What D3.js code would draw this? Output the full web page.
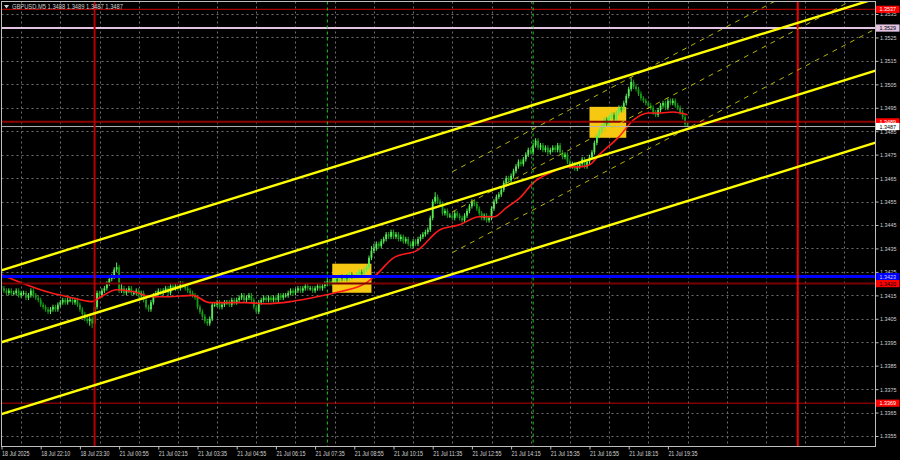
<!DOCTYPE html>
<html><head><meta charset="utf-8">
<script src="https://cdn.jsdelivr.net/npm/d3@7"></script>
<style>html,body{margin:0;padding:0;background:#000;} svg{display:block;}</style>
</head><body><svg id="c" width="900" height="460"></svg>
<script>
// ---------- DATA ----------
const symbolTitle = "GBPUSD,M5  1.3488 1.3489 1.3487 1.3487";
const BASE = 1.3400;           // candle values are in pips above BASE
const firstOpen = 19;
const closes = [18,17,16,17,16, 16,17,15,16, 16,14,15,17,15, 14,13,11,10, 9,8,9,10,9, 11,12,13,12,13, 13,12,13,11, 9,7,5,4, 5,3,10, 16,15,17,18, 20,22,23, 26,27,17, 18,16,17,18,16, 16,17,15,16, 13,10,9,12, 15,16,17,16, 17,18,16,19,18, 19,18,20,19,18, 17,16,15,14, 10,8,6,4,3, 5,11, 11,12,10,11,12, 12,11,13,12,13, 14,15,13,14,15, 13,10,8,12, 13,14,13,14,13, 14,13,15,14,15, 15,16,17,16,17, 18,17,18,19,18, 18,17,18,19,18, 19,20,21,20, 21,22,21,23, 22,23,22,24,23, 23,24,25,24,26, 27,31,34, 35,37,36,38, 39,41,40,42,40, 41,39,40,38,39, 37,36,38,37,39, 40,41,42,43, 48,55,57,55, 54,50,51,49, 49,48,50,49, 48,47,49,51, 53,55,54,52, 50,48,49,47,48, 52,55,57,58, 60,63,65,64,66, 68,70,72,71, 73,75,77,76, 79,81,78,79, 77,78,76,77,78, 77,79,76,74,75, 72,70,71,69,70, 71,73,70,72,74, 76,80,83,85, 87,90,88,91, 92,90,93,95,94, 97,100,103, 106,104, 103,101,99, 98,97,96,95, 93,92,94, 96,97,95,98,97, 98,96,95, 93,91,88,87];
const highs = [20,19,18,18,18, 17,18,18,17, 17,17,16,18,18, 16,15,14,12, 11,10,10,11,11, 12,13,14,14,14, 14,14,14,14, 12,10,8,6, 6,6,11, 17,17,18,19, 21,23,24, 27,29,28, 20,19,18,19,19, 17,18,18,17, 17,14,11,13, 16,17,18,18, 18,19,19,20,20, 20,20,21,21,20, 19,18,17,16, 15,11,9,7,5, 6,12, 12,13,13,12,13, 13,13,14,14,14, 15,16,16,15,16, 16,14,11,13, 14,15,15,15,15, 15,15,16,16,16, 16,17,18,18,18, 19,19,19,20,20, 19,19,19,20,20, 20,21,22,22, 22,23,23,24, 24,24,24,25,25, 24,25,26,26,27, 28,32,36, 37,38,38,39, 40,42,42,43,43, 42,42,41,41,40, 40,38,39,39,40, 41,42,43,44, 49,56,59,58, 56,55,52,52, 50,50,51,51, 50,49,50,52, 54,56,56,55, 53,51,50,50,49, 53,56,58,59, 61,64,66,66,67, 69,71,73,73, 74,76,78,78, 80,82,82,80, 80,79,79,78,79, 79,80,80,77,76, 76,73,72,72,71, 72,74,74,73,75, 77,81,84,86, 88,91,91,92, 93,93,94,96,96, 98,101,104, 108,107, 105,104,102, 100,99,98,97, 96,94,95, 97,98,98,99,99, 99,99,97, 96,94,92,89];
const lows = [17,16,15,15,15, 15,15,14,14, 15,13,13,14,14, 13,12,10,9, 8,7,7,8,8, 8,10,11,11,11, 12,11,11,10, 8,6,4,3, 2,1,2, 9,14,14,16, 17,19,21, 22,25,16, 16,15,15,16,15, 15,15,14,14, 12,9,8,8, 11,14,15,15, 15,16,15,15,17, 17,17,17,18,17, 16,15,14,13, 9,7,5,3,2, 2,4, 10,10,9,9,10, 11,10,10,11,11, 12,13,12,12,13, 12,9,7,7, 11,12,12,12,12, 12,12,12,13,13, 14,14,15,15,15, 16,16,16,17,17, 17,16,16,17,17, 17,18,19,19, 19,20,20,20, 21,21,21,21,22, 22,22,23,23,23, 25,26,30, 33,34,35,35, 37,38,39,39,39, 39,38,38,37,37, 36,35,35,36,36, 38,39,40,41, 42,47,54,54, 53,49,49,48, 48,47,47,48, 47,46,46,48, 50,52,53,51, 49,47,47,46,46, 47,51,54,56, 57,59,62,63,63, 65,67,69,70, 70,72,74,75, 75,78,77,77, 76,76,75,75,76, 76,76,75,73,73, 71,69,69,68,68, 69,70,69,69,71, 73,75,79,82, 84,86,87,87, 90,89,89,92,93, 93,96,99, 102,103, 102,100,98, 97,96,95,94, 92,91,91, 93,95,94,94,96, 96,95,94, 92,90,87,87];

const maBars   = [0,8,20,27,37,40,47,54,61,68,78,85,100,108,118,127,138,149,153,160,170,179,187,195,201,206,212,217,224,231,236,240,244,252,258,264,269,274,280];
const maValues = [1.34238,1.34204,1.34161,1.34144,1.34123,1.34140,1.34174,1.34165,1.34144,1.34144,1.34150,1.34119,1.34119,1.34114,1.34123,1.34140,1.34165,1.34204,1.34238,1.34310,1.34344,1.34430,1.34451,1.34485,1.34485,1.34523,1.34570,1.34630,1.34673,1.34698,1.34698,1.34707,1.34750,1.34826,1.34898,1.34928,1.34928,1.34932,1.34920];

const yTicks = [1.3355,1.3365,1.3375,1.3385,1.3395,1.3405,1.3415,1.3425,1.3435,1.3445,1.3455,1.3465,1.3475,1.3485,1.3495,1.3505,1.3515,1.3525,1.3535];
const yTickLabels = ["1.3355","1.3365","1.3375","1.3385","1.3395","1.3405","1.3415","1.3425","1.3435","1.3445","1.3455","1.3465","1.3475","1.3485","1.3495","1.3505","1.3515","1.3525","1.3535"];
const xTickBars = [0,16,32,48,64,80,96,112,128,144,160,176,192,208,224,240,256,272];
const xTickLabels = ["18 Jul 2025","18 Jul 22:10","18 Jul 23:30","21 Jul 00:55","21 Jul 02:15","21 Jul 03:35","21 Jul 04:55","21 Jul 06:15","21 Jul 07:35","21 Jul 08:55","21 Jul 10:15","21 Jul 11:35","21 Jul 12:55","21 Jul 14:15","21 Jul 15:35","21 Jul 16:55","21 Jul 18:15","21 Jul 19:35"];

const levelPrices = [1.3537, 1.3529, 1.3489, 1.3487, 1.3423, 1.3420, 1.3369];
const channelBars = [0, 340];
const channelTop  = [1.34257, 1.35361];
const channelMid  = [1.33950, 1.35054];
const channelBot  = [1.33643, 1.34747];
const regBars  = [184, 356.5];
const regUpper = [1.34677, 1.35630];
const regMid   = [1.34506, 1.35460];
const regLower = [1.34332, 1.35285];
const boxBars   = [[135, 151], [240, 255]];
const boxPrices = [[1.34285, 1.34161], [1.34954, 1.34822]];
const redVBars = [38, 325];
const greenVBars = [133, 217];

// ---------- SCALES ----------
const L = 1.5, R = 875.5, T = 1.5, B = 446.5;
const x = d3.scaleLinear().domain([0, 280]).range([1.5, 687.5]);
const y = d3.scaleLinear().domain([1.3355, 1.3535]).range([436, 14]);
const px = p => BASE + p / 10000;

const svg = d3.select("#c");
svg.append("rect").attr("width",900).attr("height",460).attr("fill","#000");
svg.append("defs").append("clipPath").attr("id","clip")
  .append("rect").attr("x",L).attr("y",T).attr("width",R-L).attr("height",B-T);
const plot = svg.append("g").attr("clip-path","url(#clip)");

// grid
const gridCol = "#6e6e6e";
plot.append("g").selectAll("line").data(yTicks).join("line")
  .attr("x1",L).attr("x2",R).attr("y1",d=>Math.round(y(d))+0.5).attr("y2",d=>Math.round(y(d))+0.5)
  .attr("stroke",gridCol).attr("stroke-dasharray","2,3");
plot.append("g").selectAll("line").data(d3.range(8, 360, 16)).join("line")
  .attr("x1",d=>Math.round(x(d))+0.5).attr("x2",d=>Math.round(x(d))+0.5).attr("y1",T).attr("y2",B)
  .attr("stroke",gridCol).attr("stroke-dasharray","2,3");

// background rectangles
plot.append("g").selectAll("rect").data(boxBars).join("rect")
  .attr("x",d=>x(d[0])).attr("width",d=>x(d[1])-x(d[0]))
  .attr("y",(d,i)=>y(boxPrices[i][0])).attr("height",(d,i)=>y(boxPrices[i][1])-y(boxPrices[i][0]))
  .attr("fill","#f7c812");

// candles
const candles = closes.map((c,i)=>({i, o: i===0?firstOpen:closes[i-1], h: highs[i], l: lows[i], c}));
const bull = "#56ee56", bear = "#16a016";
const cg = plot.append("g");
cg.selectAll("line").data(candles).join("line")
  .attr("x1",d=>x(d.i)).attr("x2",d=>x(d.i))
  .attr("y1",d=>y(px(d.h))).attr("y2",d=>y(px(d.l)))
  .attr("stroke",d=>d.c>=d.o?bull:bear).attr("stroke-width",1);
cg.selectAll("rect").data(candles).join("rect")
  .attr("x",d=>x(d.i)-0.9).attr("width",1.8)
  .attr("y",d=>y(px(Math.max(d.o,d.c))))
  .attr("height",d=>Math.max(1, y(px(Math.min(d.o,d.c)))-y(px(Math.max(d.o,d.c)))))
  .attr("fill",d=>d.c>=d.o?bull:bear);

// moving average
plot.append("path")
  .attr("d", d3.line().x(d=>x(d[0])).y(d=>y(d[1])).curve(d3.curveMonotoneX)(maBars.map((b,i)=>[b,maValues[i]])))
  .attr("fill","none").attr("stroke","#ff1a1a").attr("stroke-width",1.6);

// horizontal levels
const levelStyle = [
  {c:"#c80000", w:1,   bg:"#ff0000", fg:"#ffffff"},
  {c:"#e2c4e2", w:2,   bg:"#e2c4e2", fg:"#000000"},
  {c:"#8c0000", w:2,   bg:"#ff0000", fg:"#ffffff"},
  {c:"#b4b4b4", w:1,   bg:"#ffffff", fg:"#000000"},
  {c:"#0000ff", w:3,   bg:"#0000ff", fg:"#d0d0ff"},
  {c:"#7a0000", w:2,   bg:"#ff0000", fg:"#000000"},
  {c:"#c00000", w:1,   bg:"#ff0000", fg:"#ffffff"}
];
plot.append("g").selectAll("line").data(levelPrices).join("line")
  .attr("x1",L).attr("x2",R).attr("y1",d=>y(d)).attr("y2",d=>y(d))
  .attr("stroke",(d,i)=>levelStyle[i].c).attr("stroke-width",(d,i)=>levelStyle[i].w);

// vertical lines
plot.append("g").selectAll("line").data(greenVBars).join("line")
  .attr("x1",d=>x(d)).attr("x2",d=>x(d)).attr("y1",T).attr("y2",B)
  .attr("stroke","#1ec81e").attr("stroke-dasharray","3,3");
plot.append("g").selectAll("line").data(redVBars).join("line")
  .attr("x1",d=>x(d)).attr("x2",d=>x(d)).attr("y1",T).attr("y2",B)
  .attr("stroke",(d,i)=>i===0?"#b40000":"#ee0000").attr("stroke-width",2);

// regression channel (dashed)
[regUpper, regMid, regLower].forEach(v=>{
  plot.append("line").attr("x1",x(regBars[0])).attr("x2",x(regBars[1]))
    .attr("y1",y(v[0])).attr("y2",y(v[1]))
    .attr("stroke","#c8c800").attr("stroke-width",0.9).attr("stroke-dasharray","5,5");
});
// trend channel (solid)
[channelTop, channelMid, channelBot].forEach(v=>{
  const s = (v[1]-v[0])/(channelBars[1]-channelBars[0]);
  const b0 = x.invert(0), b1 = x.invert(R);
  plot.append("line").attr("x1",0).attr("x2",R)
    .attr("y1",y(v[0]+s*(b0-channelBars[0]))).attr("y2",y(v[0]+s*(b1-channelBars[0])))
    .attr("stroke","#ffff00").attr("stroke-width",2.4);
});

// border
svg.append("rect").attr("x",L).attr("y",T).attr("width",R-L).attr("height",B-T)
  .attr("fill","none").attr("stroke","#bdbdbd");

// axes
const font = "'Liberation Sans', Arial, sans-serif";
const yAxis = svg.append("g").attr("transform",`translate(${R},0)`)
  .call(d3.axisRight(y).tickValues(yTicks).tickFormat((d,i)=>yTickLabels[i]).tickSize(3).tickPadding(1.5));
yAxis.select(".domain").remove();
yAxis.selectAll("line").attr("stroke","#bdbdbd");
yAxis.selectAll("text").attr("fill","#d2d2d2").style("font-family",font).style("font-size","6px")
  .attr("textLength",16.5).attr("lengthAdjust","spacingAndGlyphs");

const xAxis = svg.append("g").attr("transform",`translate(0,${B})`)
  .call(d3.axisBottom(x).tickValues(xTickBars).tickFormat((d,i)=>xTickLabels[i]).tickSize(3).tickPadding(1.5));
xAxis.select(".domain").remove();
xAxis.selectAll("line").attr("stroke","#bdbdbd");
xAxis.selectAll("text").attr("fill","#d2d2d2").attr("text-anchor","start")
  .style("font-family",font).style("font-size","6.8px")
  .attr("textLength",(d,i)=>i===0?27.5:29).attr("lengthAdjust","spacingAndGlyphs");

// level price boxes on the axis
const lb = svg.append("g");
levelPrices.forEach((p,i)=>{
  const yy = y(p);
  lb.append("rect").attr("x",R+0.5).attr("y",yy-3.6).attr("width",899-R).attr("height",7.2)
    .attr("fill",levelStyle[i].bg);
  lb.append("text").attr("x",R+4).attr("y",yy+2.1).text(p.toFixed(4))
    .attr("fill",levelStyle[i].fg).style("font-family",font).style("font-size","5.8px")
    .attr("textLength",16.5).attr("lengthAdjust","spacingAndGlyphs");
});

// title
svg.append("path").attr("d","M4,5 L9,5 L6.5,8.5 Z").attr("fill","#d2d2d2");
svg.append("text").attr("x",12).attr("y",9.3).text(symbolTitle)
  .attr("fill","#d2d2d2").style("font-family",font).style("font-size","7px")
  .attr("textLength",111).attr("lengthAdjust","spacingAndGlyphs");
</script>
</body></html>
